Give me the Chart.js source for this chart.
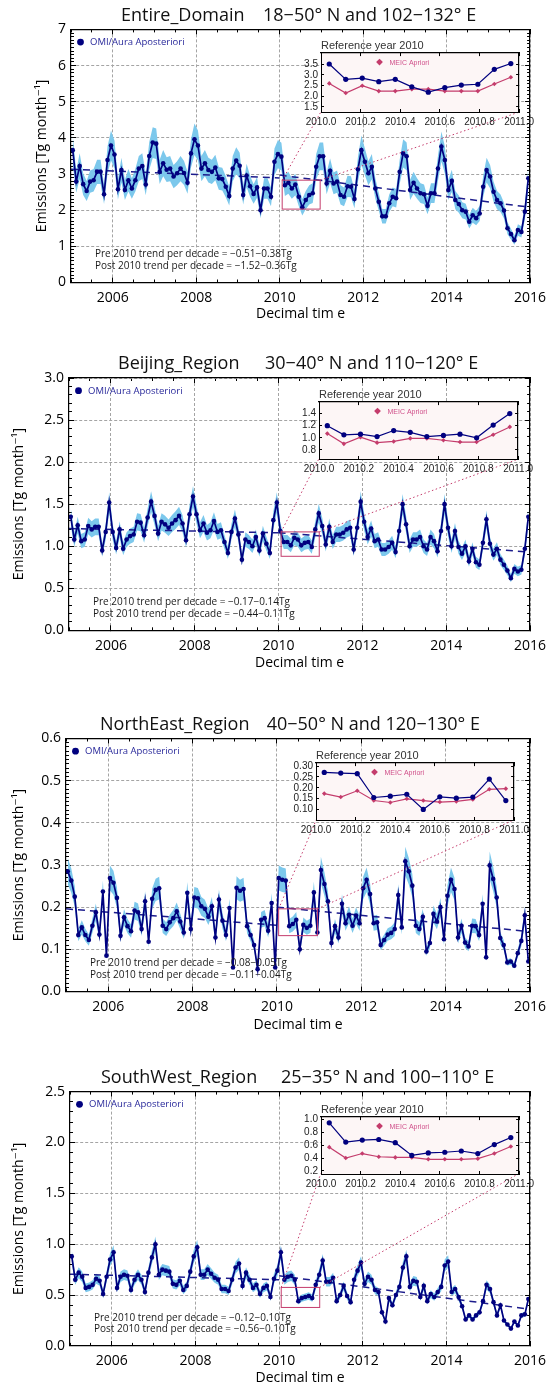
<!DOCTYPE html>
<html>
<head>
<meta charset="utf-8">
<title>OMI/Aura a posteriori emissions</title>
<script src="https://cdn.jsdelivr.net/npm/chart.js@4.4.1/dist/chart.umd.min.js"></script>
<style>
  html, body { margin: 0; padding: 0; background: #fff; overflow: hidden; }
  #page { position: relative; width: 558px; height: 1385px; }
  #page canvas { position: absolute; }
</style>
</head>
<body>
<div id="page"></div>
<script>
// ==================== DATA ====================
// monthly values, Jan 2005 .. Dec 2015, Tg month-1
const entireDomain = [
  3.66, 2.79, 3.22, 2.72, 2.53, 2.79, 2.83, 3.06, 3.06, 2.44, 3.39, 3.79,
  3.54, 2.58, 3.11, 2.56, 2.83, 2.60, 2.83, 3.15, 3.22, 2.71, 3.50, 3.87,
  3.84, 3.06, 3.30, 3.12, 3.15, 2.93, 3.02, 3.15, 3.03, 2.76, 3.57, 3.96,
  3.79, 3.15, 3.30, 3.11, 3.06, 3.18, 2.88, 2.86, 2.65, 2.39, 3.15, 3.37,
  3.23, 2.42, 2.96, 2.66, 2.45, 2.63, 2.00, 2.60, 2.60, 2.37, 3.34, 3.55,
  3.48, 2.69, 2.76, 2.60, 2.71, 2.37, 2.08, 2.28, 2.42, 2.47, 3.20, 3.49,
  3.49, 2.74, 3.09, 2.74, 2.79, 2.42, 2.37, 2.66, 2.65, 2.31, 3.13, 3.66,
  3.34, 3.02, 3.20, 2.60, 2.23, 1.83, 1.83, 2.19, 2.37, 2.33, 3.06, 3.57,
  3.49, 2.56, 2.76, 2.60, 2.47, 2.44, 2.12, 2.47, 2.47, 3.15, 3.76, 3.39,
  2.56, 2.81, 2.28, 2.17, 2.00, 1.96, 1.68, 1.86, 1.78, 1.91, 2.65, 3.11,
  2.93, 2.51, 2.28, 2.19, 1.99, 1.50, 1.34, 1.17, 1.45, 1.40, 1.96, 2.88
];
const beijingRegion = [
  1.35, 1.08, 1.25, 1.06, 1.08, 1.24, 1.20, 1.23, 1.23, 0.95, 1.17, 1.52,
  1.17, 0.98, 1.20, 0.97, 1.08, 1.12, 1.14, 1.29, 1.28, 1.13, 1.34, 1.53,
  1.36, 1.15, 1.29, 1.26, 1.22, 1.27, 1.31, 1.36, 1.27, 1.07, 1.38, 1.59,
  1.38, 1.19, 1.27, 1.16, 1.19, 1.30, 1.17, 1.19, 1.05, 0.92, 1.17, 1.33,
  1.14, 0.84, 1.08, 1.05, 1.00, 1.11, 0.95, 1.15, 1.03, 0.92, 1.31, 1.52,
  1.18, 1.05, 1.05, 1.01, 1.10, 1.08, 1.01, 1.04, 1.05, 0.99, 1.20, 1.39,
  1.24, 1.02, 1.23, 1.05, 1.14, 1.14, 1.16, 1.20, 1.22, 0.96, 1.22, 1.53,
  1.29, 1.11, 1.21, 1.06, 1.08, 0.96, 0.96, 0.99, 1.04, 0.93, 1.18, 1.50,
  1.26, 1.00, 1.08, 1.08, 1.11, 1.00, 0.96, 1.11, 1.06, 0.94, 1.18, 1.50,
  1.22, 1.00, 1.18, 0.99, 0.91, 1.00, 0.82, 0.97, 0.81, 0.78, 1.04, 1.32,
  1.03, 0.90, 0.97, 0.84, 0.78, 0.71, 0.62, 0.73, 0.70, 0.72, 0.97, 1.35
];
const northEastRegion = [
  0.285, 0.263, 0.225, 0.134, 0.152, 0.134, 0.122, 0.156, 0.188, 0.135, 0.237, 0.085,
  0.269, 0.258, 0.222, 0.132, 0.176, 0.155, 0.143, 0.192, 0.188, 0.148, 0.214, 0.118,
  0.220, 0.241, 0.245, 0.156, 0.148, 0.164, 0.174, 0.190, 0.166, 0.140, 0.234, 0.148,
  0.223, 0.221, 0.202, 0.196, 0.177, 0.202, 0.128, 0.218, 0.168, 0.134, 0.198, 0.057,
  0.246, 0.239, 0.243, 0.155, 0.134, 0.110, 0.053, 0.170, 0.174, 0.144, 0.210, 0.057,
  0.269, 0.265, 0.263, 0.155, 0.160, 0.170, 0.100, 0.158, 0.151, 0.156, 0.235, 0.140,
  0.288, 0.255, 0.214, 0.115, 0.155, 0.128, 0.208, 0.162, 0.182, 0.156, 0.180, 0.162,
  0.245, 0.265, 0.231, 0.162, 0.164, 0.110, 0.122, 0.135, 0.139, 0.148, 0.229, 0.152,
  0.309, 0.285, 0.251, 0.156, 0.148, 0.177, 0.095, 0.115, 0.184, 0.166, 0.200, 0.124,
  0.227, 0.265, 0.243, 0.128, 0.156, 0.116, 0.107, 0.156, 0.155, 0.134, 0.208, 0.081,
  0.299, 0.267, 0.223, 0.127, 0.110, 0.069, 0.071, 0.061, 0.091, 0.120, 0.181, 0.071
];
const southWestRegion = [
  0.88, 0.65, 0.72, 0.68, 0.57, 0.58, 0.60, 0.66, 0.64, 0.51, 0.68, 0.85,
  0.92, 0.57, 0.68, 0.70, 0.69, 0.55, 0.65, 0.70, 0.65, 0.53, 0.72, 0.87,
  1.00, 0.70, 0.75, 0.74, 0.73, 0.61, 0.60, 0.64, 0.55, 0.59, 0.73, 0.88,
  0.97, 0.70, 0.70, 0.75, 0.71, 0.67, 0.65, 0.56, 0.56, 0.54, 0.65, 0.77,
  0.81, 0.59, 0.72, 0.65, 0.57, 0.60, 0.51, 0.57, 0.59, 0.48, 0.66, 0.74,
  0.92, 0.65, 0.68, 0.69, 0.65, 0.44, 0.47, 0.48, 0.49, 0.47, 0.60, 0.70,
  0.84, 0.63, 0.63, 0.67, 0.44, 0.50, 0.59, 0.49, 0.43, 0.65, 0.74, 0.82,
  0.61, 0.68, 0.65, 0.55, 0.53, 0.33, 0.24, 0.47, 0.40, 0.50, 0.58, 0.77,
  0.88, 0.58, 0.64, 0.63, 0.48, 0.59, 0.44, 0.51, 0.48, 0.53, 0.58, 0.79,
  0.83, 0.53, 0.56, 0.48, 0.39, 0.26, 0.30, 0.26, 0.30, 0.33, 0.44, 0.60,
  0.56, 0.43, 0.30, 0.40, 0.25, 0.21, 0.17, 0.24, 0.20, 0.30, 0.31, 0.46
];

// reference year 2010 (insets)
const entireOmi2010 = [3.51, 2.79, 2.85, 2.68, 2.79, 2.44, 2.19, 2.40, 2.52, 2.56, 3.26, 3.53];
const entireMeic2010 = [2.60, 2.15, 2.49, 2.24, 2.24, 2.33, 2.33, 2.24, 2.24, 2.24, 2.57, 2.89];
const beijingOmi2010 = [1.20, 1.05, 1.06, 1.02, 1.12, 1.09, 1.02, 1.04, 1.06, 1.00, 1.21, 1.40];
const beijingMeic2010 = [1.07, 0.90, 1.01, 0.92, 0.94, 0.99, 0.99, 0.96, 0.93, 0.93, 1.05, 1.18];
const northEastOmi2010 = [0.271, 0.268, 0.265, 0.155, 0.161, 0.170, 0.100, 0.158, 0.152, 0.157, 0.240, 0.141];
const northEastMeic2010 = [0.173, 0.157, 0.186, 0.141, 0.132, 0.149, 0.141, 0.134, 0.137, 0.146, 0.193, 0.196];
const southWestOmi2010 = [0.95, 0.65, 0.68, 0.69, 0.64, 0.44, 0.48, 0.49, 0.51, 0.47, 0.61, 0.72];
const southWestMeic2010 = [0.57, 0.40, 0.47, 0.42, 0.41, 0.41, 0.38, 0.38, 0.38, 0.39, 0.47, 0.58];

// linear trends: [value at start, value at end]
const trendPreYears = [2005, 2010];
const trendPostYears = [2010, 2016];
const entirePre = [3.13, 2.89], entirePost = [2.97, 2.08];
const beijingPre = [1.21, 1.16], beijingPost = [1.16, 0.93];
const northEastPre = [0.196, 0.157], northEastPost = [0.200, 0.142];
const southWestPre = [0.705, 0.65], southWestPost = [0.69, 0.36];

// zoom box in data units: [x0, x1, y0, y1]
const entireBox = [2010.06, 2010.97, 2.03, 2.83];
const beijingBox = [2010.06, 2010.97, 0.88, 1.17];
const northEastBox = [2010.04, 2010.96, 0.1325, 0.196];
const southWestBox = [2010.05, 2010.97, 0.378, 0.575];

// tick labels
const xTickYears = [2006, 2008, 2010, 2012, 2014, 2016];
const insetXTicks = [2010.0, 2010.2, 2010.4, 2010.6, 2010.8, 2011.0];
const entireYTicks = [0, 1, 2, 3, 4, 5, 6, 7];
const beijingYTicks = [0, 0.5, 1.0, 1.5, 2.0, 2.5, 3.0];
const northEastYTicks = [0, 0.1, 0.2, 0.3, 0.4, 0.5, 0.6];
const southWestYTicks = [0, 0.5, 1.0, 1.5, 2.0, 2.5];
const entireInsetYTicks = [1.5, 2.0, 2.5, 3.0, 3.5];
const beijingInsetYTicks = [0.8, 1.0, 1.2, 1.4];
const northEastInsetYTicks = [0.10, 0.15, 0.20, 0.25, 0.30];
const southWestInsetYTicks = [0.2, 0.4, 0.6, 0.8, 1.0];

const entireTrendText = ['Pre 2010 trend per decade = −0.51−0.38Tg', 'Post 2010 trend per decade = −1.52−0.36Tg'];
const beijingTrendText = ['Pre 2010 trend per decade = −0.17−0.14Tg', 'Post 2010 trend per decade = −0.44−0.11Tg'];
const northEastTrendText = ['Pre 2010 trend per decade = −0.08−0.05Tg', 'Post 2010 trend per decade = −0.11−0.04Tg'];
const southWestTrendText = ['Pre 2010 trend per decade = −0.12−0.10Tg', 'Post 2010 trend per decade = −0.56−0.10Tg'];

// decimal time of each monthly value (mid-month)
const decimalTime = entireDomain.map((_, i) => 2005 + (i + 0.5) / 12);
const insetTime = decimalTime.slice(60, 72);

// ==================== STYLE ====================
const NAVY = '#00007f';
const BAND = '#7cc8ec';
const CRIMSON = '#c43c6c';
const GRID = '#a4a4a4';
const SANS = "'Open Sans', 'DejaVu Sans', sans-serif";
const NARROW = "'Liberation Sans Narrow', 'Liberation Sans', sans-serif";
const PAGE_W = 558;

Chart.defaults.font.family = SANS;
Chart.defaults.color = '#000';

// panel layout in page pixels: plot = [left, top, right, bottom], inset = frame [left, top, right, bottom]
const panels = [
  { title: ['Entire_Domain', '18−50° N and 102−132° E'], values: entireDomain, pre: entirePre, post: entirePost,
    omi: entireOmi2010, meic: entireMeic2010, yTicks: entireYTicks, insetYTicks: entireInsetYTicks,
    trendText: entireTrendText, box: entireBox,
    top: 0, height: 340, plot: [71, 29.4, 541, 282.5], titleX: [121, 263], titleY: 16, yTitleX: 42, xTitleY: 314,
    inset: [320.7, 53.3, 526.7, 111.7], yMax: 7, insetY: [1.26, 4.02], dec: 0, insetDec: 1, minorStep: 0.1, band: 0.11 },
  { title: ['Beijing_Region', '30−40° N and 110−120° E'], values: beijingRegion, pre: beijingPre, post: beijingPost,
    omi: beijingOmi2010, meic: beijingMeic2010, yTicks: beijingYTicks, insetYTicks: beijingInsetYTicks,
    trendText: beijingTrendText, box: beijingBox,
    top: 345, height: 340, plot: [69, 378, 539, 630.3], titleX: [118, 265], titleY: 364.3, yTitleX: 19.5, xTitleY: 663,
    inset: [318.7, 402.3, 525.3, 459], yMax: 3, insetY: [0.65, 1.59], dec: 1, insetDec: 1, minorStep: 0.1, band: 0.08 },
  { title: ['NorthEast_Region', '40−50° N and 120−130° E'], values: northEastRegion, pre: northEastPre, post: northEastPost,
    omi: northEastOmi2010, meic: northEastMeic2010, yTicks: northEastYTicks, insetYTicks: northEastInsetYTicks,
    trendText: northEastTrendText, box: northEastBox,
    top: 700, height: 340, plot: [66, 738.5, 536.5, 991.5], titleX: [100, 266.7], titleY: 725, yTitleX: 19, xTitleY: 1025,
    inset: [316.3, 762.7, 522, 820], yMax: 0.6, insetY: [0.051, 0.314], dec: 1, insetDec: 2, minorStep: 0.01, band: 0.11 },
  { title: ['SouthWest_Region', '25−35° N and 100−110° E'], values: southWestRegion, pre: southWestPre, post: southWestPost,
    omi: southWestOmi2010, meic: southWestMeic2010, yTicks: southWestYTicks, insetYTicks: southWestInsetYTicks,
    trendText: southWestTrendText, box: southWestBox,
    top: 1050, height: 338, plot: [70, 1091.6, 541, 1345.9], titleX: [101, 281], titleY: 1078, yTitleX: 19.5, xTitleY: 1378,
    inset: [320.7, 1116.7, 526.3, 1174], yMax: 2.5, insetY: [0.15, 1.04], dec: 1, insetDec: 1, minorStep: 0.1, band: 0.075 }
];

// ==================== HELPERS ====================
const page = document.getElementById('page');

function addCanvas(left, top, width, height) {
  const c = document.createElement('canvas');
  c.width = Math.round(width);
  c.height = Math.round(height);
  c.style.left = left + 'px';
  c.style.top = top + 'px';
  page.appendChild(c);
  return c;
}

function points(xs, ys) {
  return ys.map((v, i) => ({ x: xs[i], y: v }));
}

// label-less axis used only for inward tick marks (and optionally the frame edge)
function tickAxis(position, min, max, tickSpec, length, frame) {
  const axis = {
    type: 'linear', position, min, max, weight: 0,
    ticks: { display: false, maxTicksLimit: 1000 },
    grid: { display: true, drawOnChartArea: false, drawTicks: true, tickLength: -length, tickColor: '#000', tickWidth: 1 },
    border: { display: !!frame, color: '#000', width: 1.2, z: 1 },
    afterFit: s => { if (s.isHorizontal()) s.height = 0; else s.width = 0; }
  };
  if (Array.isArray(tickSpec)) axis.afterBuildTicks = s => { s.ticks = tickSpec.map(v => ({ value: v })); };
  else axis.ticks.stepSize = tickSpec;
  return axis;
}

// ==================== INSET (reference year 2010) ====================
function buildInset(p) {
  const [fl, ft, fr, fb] = p.inset;
  const padL = 30, padR = 14, headH = 19.1, footH = 20;
  const left = fl - padL, top = ft - headH;
  const canvas = addCanvas(left, top, fr - fl + padL + padR, fb - ft + headH + footH);

  const insetDecor = {
    id: 'insetDecor',
    beforeDraw(chart) {
      const { ctx, chartArea: a } = chart;
      ctx.save();
      ctx.fillStyle = '#fdf6f6';
      ctx.fillRect(a.left, a.top, a.right - a.left, a.bottom - a.top);
      ctx.restore();
    },
    afterDraw(chart) {
      // legend entry: MEIC Apriori
      const { ctx, chartArea: a } = chart;
      const cx = a.left + 58.5, cy = a.top + 9;
      ctx.save();
      ctx.fillStyle = CRIMSON;
      ctx.beginPath();
      ctx.moveTo(cx, cy - 3.4); ctx.lineTo(cx + 3.4, cy); ctx.lineTo(cx, cy + 3.4); ctx.lineTo(cx - 3.4, cy);
      ctx.closePath();
      ctx.fill();
      ctx.fillStyle = '#d0508a';
      ctx.font = "7px 'Liberation Sans', sans-serif";
      ctx.textBaseline = 'middle';
      ctx.fillText('MEIC Apriori', cx + 10, cy + 0.5);
      ctx.restore();
    }
  };

  const [ymin, ymax] = p.insetY;
  return {
    chart: new Chart(canvas, {
      type: 'line',
      data: {
        datasets: [
          { label: 'OMI/Aura Aposteriori', data: points(insetTime, p.omi), borderColor: NAVY, backgroundColor: NAVY,
            borderWidth: 1.2, pointRadius: 2.6, pointBorderWidth: 0, xAxisID: 'x', yAxisID: 'y' },
          { label: 'MEIC Apriori', data: points(insetTime, p.meic), borderColor: CRIMSON, backgroundColor: CRIMSON,
            borderWidth: 1.2, pointStyle: 'rectRot', pointRadius: 2.3, pointBorderWidth: 0, xAxisID: 'x', yAxisID: 'y' }
        ]
      },
      options: {
        responsive: false, animation: false, devicePixelRatio: 1,
        layout: { autoPadding: false, padding: { top: 2, left: 0, right: padR, bottom: 0 } },
        plugins: {
          legend: { display: false }, tooltip: { enabled: false },
          title: { display: true, text: 'Reference year 2010', align: 'start', fullSize: false, color: '#333',
                   font: { family: "'Liberation Sans', sans-serif", size: 11, weight: 'normal' }, padding: { top: 3, bottom: 0.9 } }
        },
        scales: {
          x: {
            type: 'linear', position: 'bottom', min: 2010, max: 2011, weight: 10,
            afterBuildTicks: s => { s.ticks = insetXTicks.map(v => ({ value: v })); },
            ticks: { font: { family: NARROW, size: 10 }, color: '#222', padding: 7, autoSkip: false, maxRotation: 0,
                     callback: v => v.toFixed(1) },
            grid: { drawOnChartArea: false, tickLength: -3, tickColor: '#000' },
            border: { color: '#000', width: 1, z: 1 },
            afterFit: s => { s.height = footH; }
          },
          xt: tickAxis('top', 2010, 2011, insetXTicks, 3, true),
          y: {
            type: 'linear', position: 'left', min: ymin, max: ymax, weight: 10,
            afterBuildTicks: s => { s.ticks = p.insetYTicks.map(v => ({ value: v })); },
            ticks: { font: { family: NARROW, size: 10 }, color: '#222', padding: 6, autoSkip: false,
                     callback: v => v.toFixed(p.insetDec) },
            grid: { drawOnChartArea: false, tickLength: -3, tickColor: '#000' },
            border: { color: '#000', width: 1, z: 1 },
            afterFit: s => { s.width = padL; }
          },
          yr: tickAxis('right', ymin, ymax, p.insetYTicks, 3, true)
        }
      },
      plugins: [insetDecor]
    }),
    left, top
  };
}

// ==================== MAIN PANEL ====================
function buildPanel(p) {
  const inset = buildInset(p);
  const [pl, pt, pr, pb] = p.plot;
  const canvas = addCanvas(0, p.top, PAGE_W, p.height);
  const plotTop = pt - p.top, plotBottom = pb - p.top;
  const xAxisH = p.height - plotBottom;
  const xTitlePad = Math.max(0, p.height - 8.4 - (p.xTitleY - p.top));

  const panelDecor = {
    id: 'panelDecor',
    afterDatasetsDraw(chart) {
      const { ctx, scales: { x, y } } = chart;
      const [x0, x1, y0, y1] = p.box;
      const bl = x.getPixelForValue(x0), br = x.getPixelForValue(x1);
      const bt = y.getPixelForValue(y1), bb = y.getPixelForValue(y0);
      const ia = inset.chart.chartArea;
      const dx = inset.left, dy = inset.top - p.top;
      ctx.save();
      ctx.strokeStyle = CRIMSON;
      ctx.lineWidth = 1;
      ctx.strokeRect(bl, bt, br - bl, bb - bt);
      ctx.setLineDash([1.5, 2.5]);
      ctx.beginPath();
      ctx.moveTo(bl, bt); ctx.lineTo(ia.left + dx, ia.bottom + dy);
      ctx.moveTo(br, bt); ctx.lineTo(ia.right + dx, ia.bottom + dy);
      ctx.stroke();
      ctx.restore();
    },
    afterDraw(chart) {
      const { ctx, chartArea: a } = chart;
      ctx.save();
      // panel title
      ctx.fillStyle = '#111';
      ctx.font = `18px ${SANS}`;
      ctx.textBaseline = 'middle';
      ctx.fillText(p.title[0], p.titleX[0], p.titleY - p.top);
      ctx.fillText(p.title[1], p.titleX[1], p.titleY - p.top);
      // legend entry
      ctx.fillStyle = NAVY;
      ctx.beginPath();
      ctx.arc(a.left + 9.5, a.top + 12.7, 3.4, 0, Math.PI * 2);
      ctx.fill();
      ctx.fillStyle = '#28289a';
      ctx.font = `9.5px ${SANS}`;
      ctx.fillText('OMI/Aura Aposteriori', a.left + 19, a.top + 12.9);
      // trend annotation
      ctx.fillStyle = '#1a1a1a';
      ctx.font = `10px ${SANS}`;
      ctx.fillText(p.trendText[0], a.left + 24, a.bottom - 28);
      ctx.fillText(p.trendText[1], a.left + 24, a.bottom - 16.3);
      ctx.restore();
    }
  };

  new Chart(canvas, {
    type: 'line',
    data: {
      datasets: [
        { label: 'OMI/Aura Aposteriori', data: points(decimalTime, p.values), borderColor: NAVY, backgroundColor: NAVY,
          borderWidth: 1.7, pointRadius: 2.3, pointBorderWidth: 0, xAxisID: 'x', yAxisID: 'y' },
        { label: 'Pre 2010 trend', data: points(trendPreYears, p.pre), borderColor: '#1c1c8c', borderWidth: 1.5,
          borderDash: [7, 5], pointRadius: 0, fill: false, xAxisID: 'x', yAxisID: 'y' },
        { label: 'Post 2010 trend', data: points(trendPostYears, p.post), borderColor: '#1c1c8c', borderWidth: 1.5,
          borderDash: [7, 5], pointRadius: 0, fill: false, xAxisID: 'x', yAxisID: 'y' },
        { label: 'upper', data: points(decimalTime, p.values.map(v => v * (1 + p.band))), borderColor: 'rgba(0,0,0,0)',
          backgroundColor: BAND, borderWidth: 0, pointRadius: 0, fill: '+1', xAxisID: 'x', yAxisID: 'y' },
        { label: 'lower', data: points(decimalTime, p.values.map(v => v * (1 - p.band))), borderColor: 'rgba(0,0,0,0)',
          borderWidth: 0, pointRadius: 0, fill: false, xAxisID: 'x', yAxisID: 'y' }
      ]
    },
    options: {
      responsive: false, animation: false, devicePixelRatio: 1,
      layout: { autoPadding: false, padding: { top: plotTop, left: 0, right: PAGE_W - pr, bottom: 0 } },
      plugins: { legend: { display: false }, tooltip: { enabled: false } },
      scales: {
        x: {
          type: 'linear', position: 'bottom', min: 2005, max: 2016, weight: 10,
          afterBuildTicks: s => { s.ticks = xTickYears.map(v => ({ value: v })); },
          ticks: { font: { size: 14 }, color: '#000', padding: 11.9, autoSkip: false, maxRotation: 0, callback: v => String(v) },
          grid: { color: GRID, lineWidth: 1, tickLength: -5, tickColor: '#000', tickWidth: 1 },
          border: { display: true, color: '#000', width: 1.2, dash: [3, 2], z: 1 },
          title: { display: true, text: 'Decimal tim e', font: { size: 14 }, color: '#000', padding: { top: 0, bottom: xTitlePad } },
          afterFit: s => { s.height = xAxisH; }
        },
        xm: tickAxis('bottom', 2005, 2016, 0.5, 3, false),
        xt: tickAxis('top', 2005, 2016, xTickYears, 5, true),
        xtm: tickAxis('top', 2005, 2016, 0.5, 3, false),
        y: {
          type: 'linear', position: 'left', min: 0, max: p.yMax, weight: 10,
          afterBuildTicks: s => { s.ticks = p.yTicks.map(v => ({ value: v })); },
          ticks: { font: { size: 14 }, color: '#000', padding: 10, autoSkip: false, callback: v => v.toFixed(p.dec) },
          grid: { color: GRID, lineWidth: 1, tickLength: -5, tickColor: '#000', tickWidth: 1 },
          border: { display: true, color: '#000', width: 1.2, dash: [3, 2], z: 1 },
          title: { display: true, text: 'Emissions [Tg month⁻¹]', font: { size: 14 }, color: '#000',
                   padding: { top: p.yTitleX - 8.4, bottom: 0 } },
          afterFit: s => { s.width = pl; }
        },
        ym: tickAxis('left', 0, p.yMax, p.minorStep, 3, false),
        yr: tickAxis('right', 0, p.yMax, p.yTicks, 5, true),
        yrm: tickAxis('right', 0, p.yMax, p.minorStep, 3, false)
      }
    },
    plugins: [panelDecor]
  });

  // keep the inset above the main plot
  page.appendChild(inset.chart.canvas);
}

panels.forEach(buildPanel);
</script>
</body>
</html>
